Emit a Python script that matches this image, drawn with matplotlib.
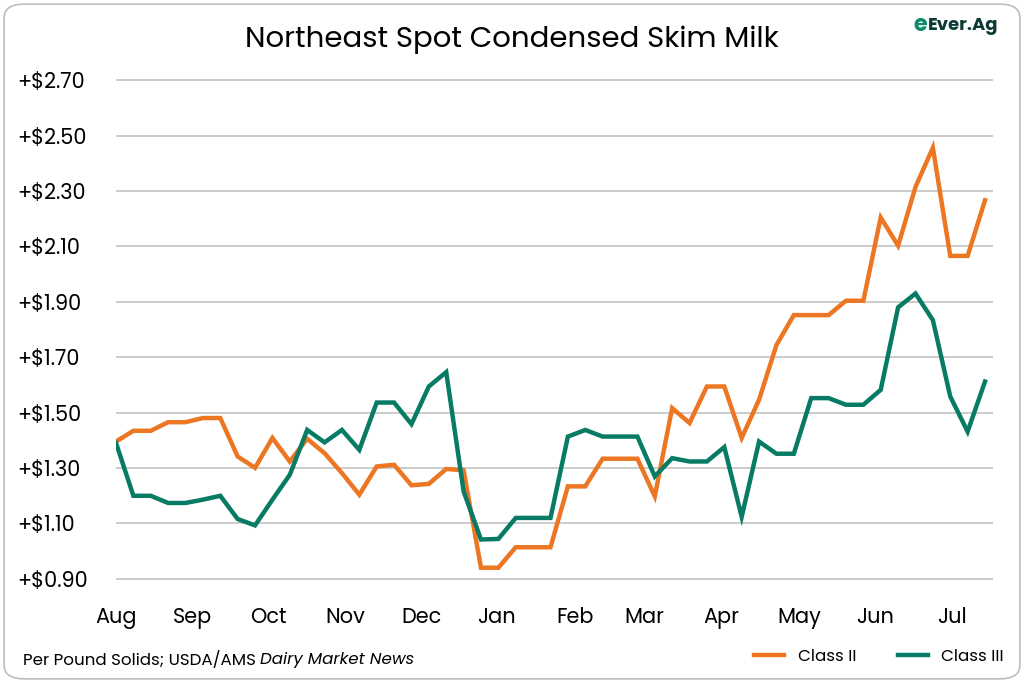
import matplotlib
matplotlib.use("Agg")
import matplotlib.pyplot as plt
from matplotlib.patches import FancyBboxPatch

class2 = [1.395,1.434,1.434,1.465,1.465,1.48,1.48,1.341,1.30,1.408,1.323,1.405,1.353,1.281,1.203,1.305,1.311,1.237,1.242,1.296,1.291,0.939,
          0.939,1.013,1.013,1.013,1.233,1.233,1.333,1.333,1.333,1.197,1.516,1.462,1.594,1.594,1.408,1.546,1.744,1.852,1.852,1.852,1.904,1.904,2.205,2.103,2.315,2.457,2.066,2.066,2.267]
class3 = [1.39,1.199,1.199,1.173,1.173,1.185,1.199,1.115,1.092,1.185,1.275,1.437,1.392,1.437,1.365,1.536,1.536,1.458,1.594,1.646,1.215,1.041,
          1.043,1.119,1.119,1.119,1.413,1.437,1.413,1.413,1.413,1.269,1.335,1.323,1.323,1.375,1.123,1.395,1.351,1.351,1.552,1.552,1.528,1.528,1.582,1.880,1.930,1.834,1.558,1.431,1.612]
months = ["Aug","Sep","Oct","Nov","Dec","Jan","Feb","Mar","Apr","May","Jun","Jul"]
month_pos = [0,4.37,8.75,13.2,17.6,21.9,26.4,30.4,34.8,39.3,43.7,48.1]
yticks = [0.90,1.10,1.30,1.50,1.70,1.90,2.10,2.30,2.50,2.70]

plt.rcParams['font.family'] = ['Poppins', 'Lato', 'DejaVu Sans']
fig = plt.figure(figsize=(10.24,6.83), dpi=100)
fig.patches.append(FancyBboxPatch((0.004,0.006),0.992,0.988,boxstyle="round,pad=0,rounding_size=0.02",
                                  transform=fig.transFigure, fill=False, ec="#bdbdbd", lw=1.2))
ax = fig.add_axes([116/1024, 1-581/683, (993-116)/1024, (581-78)/683])
n = len(class2)
ax.plot(range(n), class2, color="#ec7622", lw=3.2, label="Class II", solid_joinstyle="miter")
ax.plot(range(len(class3)), class3, color="#077b63", lw=3.2, label="Class III", solid_joinstyle="miter")
ax.set_xlim(0, 50.46)
ax.set_ylim(0.891, 2.709)
ax.set_yticks(yticks)
ax.set_yticklabels([f"+${v:.2f}" for v in yticks], fontsize=15)
ax.set_xticks(month_pos)
ax.set_xticklabels(months, fontsize=15)
ax.tick_params(axis='x', length=0, pad=19)
ax.tick_params(axis='y', length=0, pad=71)
for t in ax.get_yticklabels():
    t.set_horizontalalignment('left')
ax.grid(axis='y', color="#c8c8c8", lw=1.3)
ax.set_axisbelow(True)
for s in ax.spines.values():
    s.set_visible(False)
fig.text(0.5, 0.942, "Northeast Spot Condensed Skim Milk", ha="center", va="center", fontsize=21)
t1 = fig.text(0.022, 0.033, "Per Pound Solids; USDA/AMS", fontsize=12, va="center")
r = fig.canvas.get_renderer()
bb = t1.get_window_extent(r)
fig.text((bb.x1 + 5) / fig.bbox.width, 0.033, "Dairy Market News", fontsize=12, va="center", style="italic")
fig.legend(loc="lower right", bbox_to_anchor=(0.995, 0.005), ncol=2, frameon=False, fontsize=12,
           handlelength=1.8, columnspacing=2.5)
fig.text(0.975, 0.962, "Ever.Ag", ha="right", va="center", fontsize=13, weight="bold", color="#0b3b34")
fig.text(0.905, 0.962, "e", ha="right", va="center", fontsize=16, weight="bold", color="#0a8a6b")
fig.savefig("out.png", dpi=100)
